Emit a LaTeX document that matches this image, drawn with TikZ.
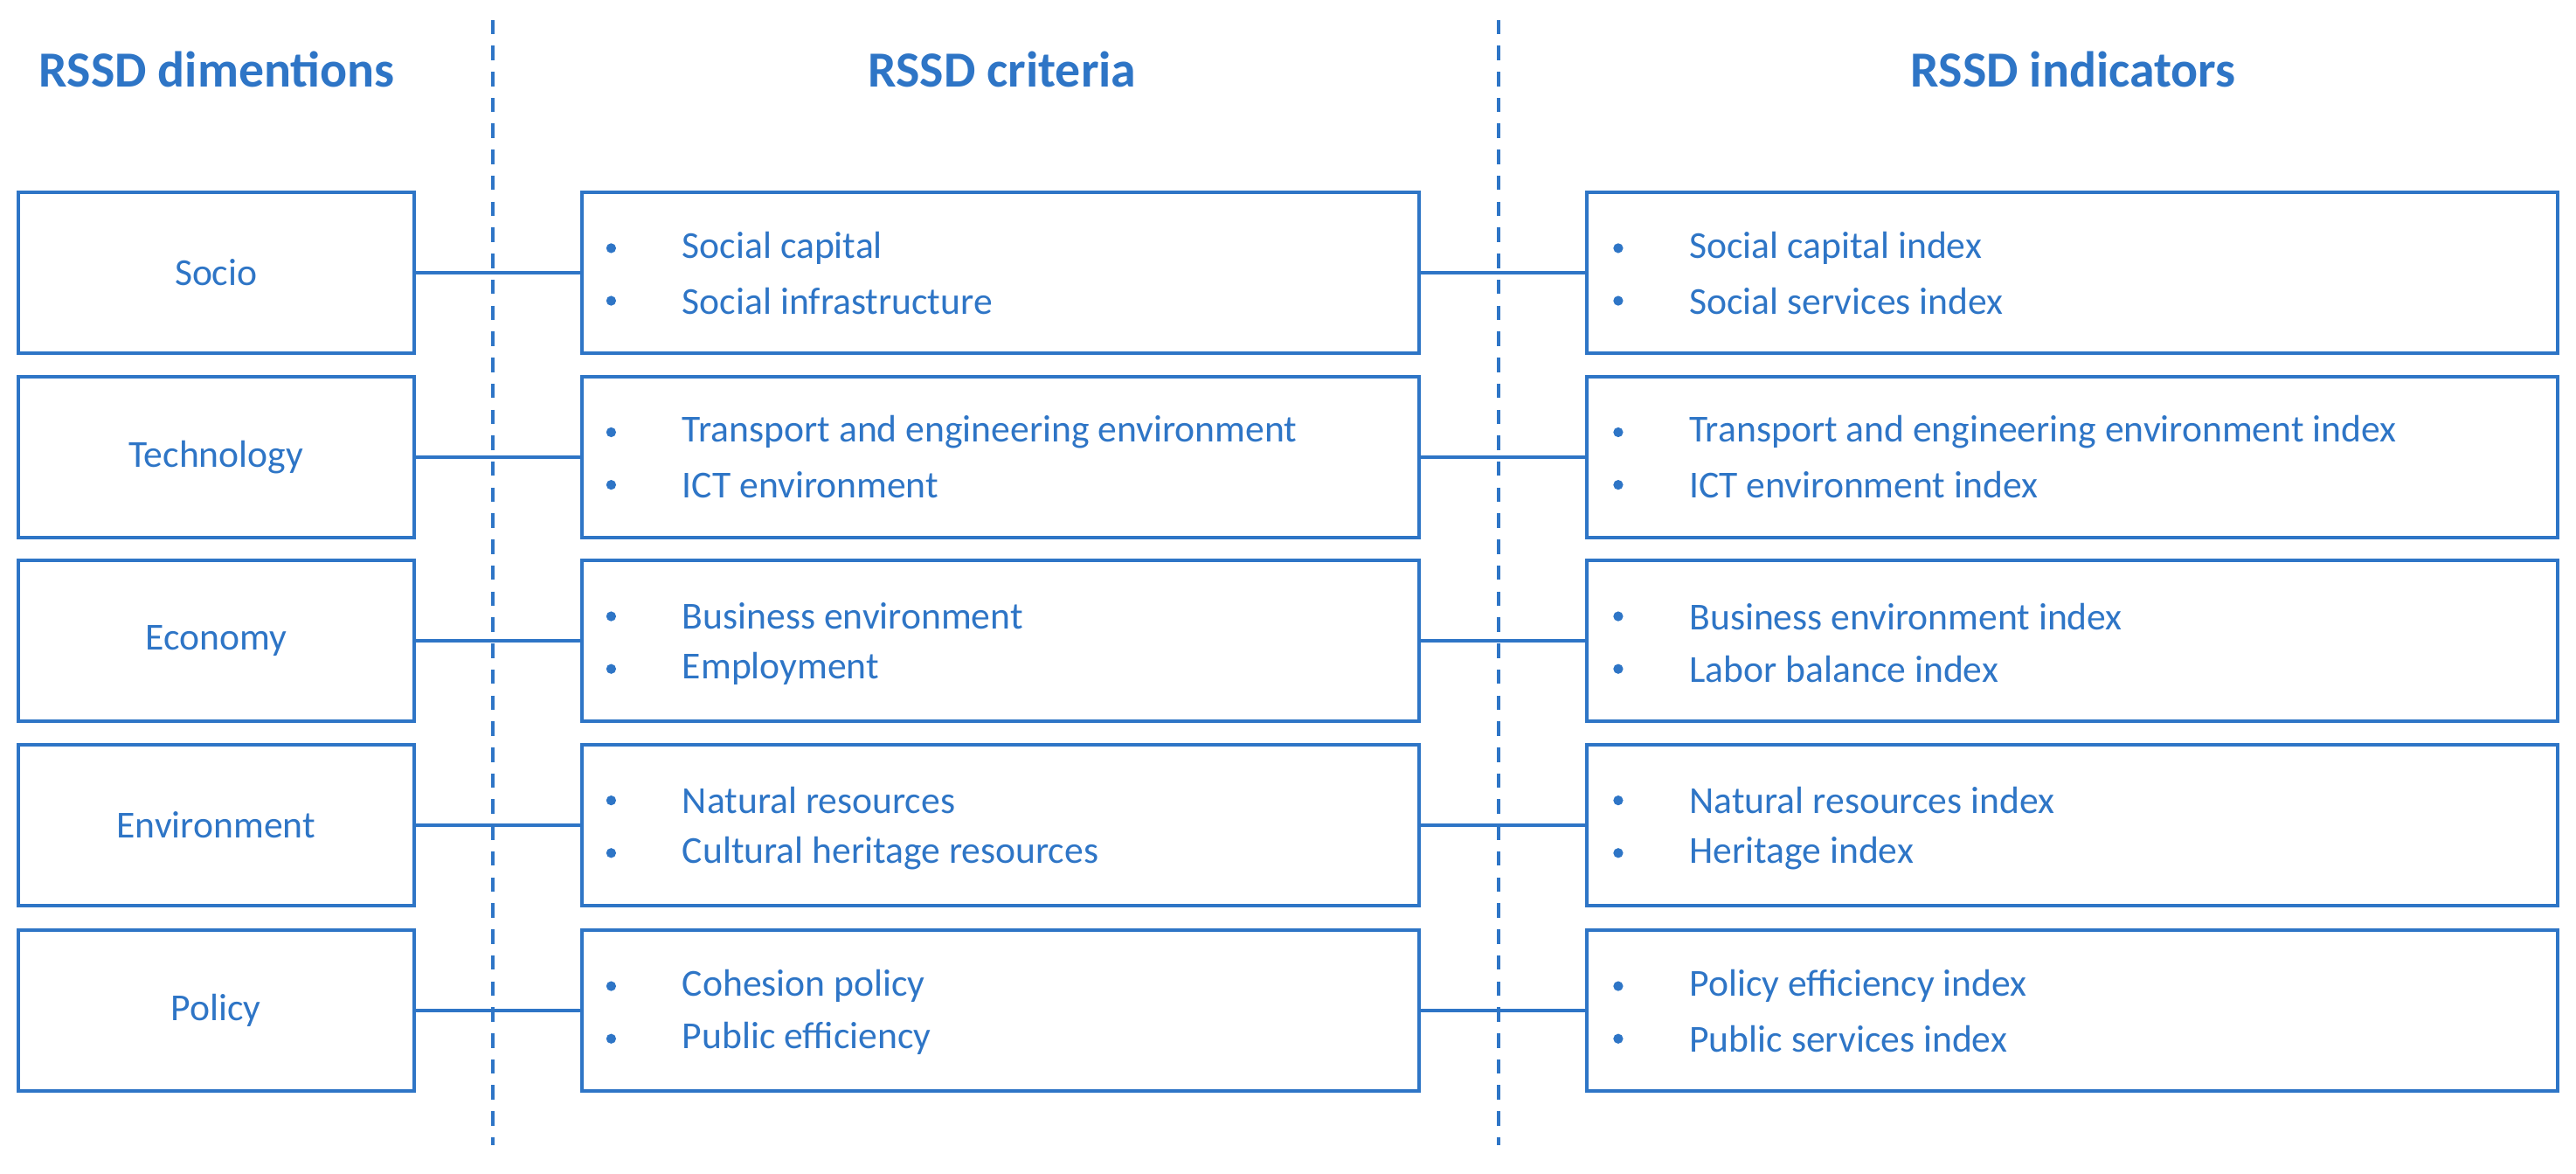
\documentclass[tikz,border=0pt]{standalone}
\usepackage{fontspec}
\setmainfont{Carlito}
\definecolor{bl}{HTML}{2E75C6}
\begin{document}
\begin{tikzpicture}[x=0.02cm,y=-0.02cm,
  box/.style={draw=bl,line width=1.2pt,minimum height=1.96cm,inner sep=0pt},
  lbox/.style={box,minimum width=4.82cm},
  mbox/.style={box,minimum width=10.2cm},
  rbox/.style={box,minimum width=11.82cm},
  txt/.style={text=bl,font=\fontsize{13.2}{15}\selectfont,anchor=west,inner sep=0pt},
  hd/.style={text=bl,font=\bfseries\fontsize{17.5}{19}\selectfont},
  conn/.style={draw=bl,line width=1.2pt},
  sep/.style={draw=bl,line width=1.2pt,dash pattern=on 5pt off 4pt}]
\useasboundingbox (0,0) rectangle (1568,714);
\node[hd] (h1) at (132,42) {RSSD dimentions};
\node[hd] (h2) at (610,42) {RSSD criteria};
\node[hd] (h3) at (1262,42) {RSSD indicators};
\coordinate (d1a) at (300,12); \coordinate (d1b) at (300,697);
\coordinate (d2a) at (912,12); \coordinate (d2b) at (912,697);
\draw[sep] (d1a) -- (d1b);
\draw[sep] (d2a) -- (d2b);
\foreach \i/\y/\a/\b/\c/\d/\e in {
 1/166/Socio/Social capital/Social infrastructure/Social capital index/Social services index,
 2/278/Technology/Transport and engineering environment/ICT environment/Transport and engineering environment index/ICT environment index,
 3/390/Economy/Business environment/Employment/Business environment index/Labor balance index,
 4/502/Environment/Natural resources/Cultural heritage resources/Natural resources index/Heritage index,
 5/615/Policy/Cohesion policy/Public efficiency/Policy efficiency index/Public services index}{
 \node[lbox] (L\i) at (131.5,\y) {};
 \node[text=bl,font=\fontsize{13.2}{15}\selectfont] (Lt\i) at (131.5,\y) {\a};
 \node[mbox] (M\i) at (609,\y) {};
 \node[rbox] (R\i) at (1261.5,\y) {};
 \node[txt] (Ma\i) at (415,\y-15) {\b};
 \node[txt] (Mb\i) at (415,\y+17) {\c};
 \node[txt] (Ra\i) at (1028,\y-15) {\d};
 \node[txt] (Rb\i) at (1028,\y+17) {\e};
 \fill[bl] (372,\y-15) circle (3);
 \fill[bl] (372,\y+17) circle (3);
 \fill[bl] (985,\y-15) circle (3);
 \fill[bl] (985,\y+17) circle (3);
 \draw[conn] (L\i.east) -- (M\i.west);
 \draw[conn] (M\i.east) -- (R\i.west);
}
\end{tikzpicture}
\end{document}
